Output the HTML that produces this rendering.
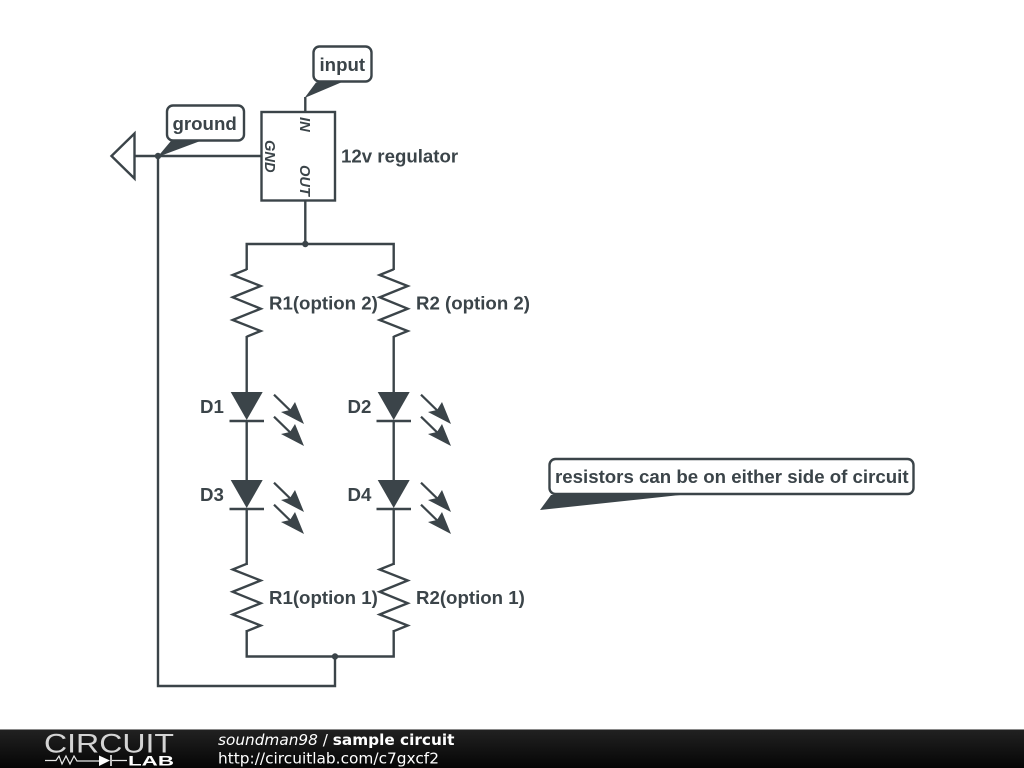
<!DOCTYPE html>
<html>
<head>
<meta charset="utf-8">
<style>
html,body{margin:0;padding:0;background:#fff;width:1024px;height:768px;overflow:hidden}
svg{display:block;position:absolute;left:0;top:0}
.l{font-family:"Liberation Sans",sans-serif;font-weight:bold;font-size:18.67px;fill:#3b4449}
.p{font-family:"Liberation Sans",sans-serif;font-weight:bold;font-style:italic;font-size:14.67px;fill:#3b4449}
.d{font-family:"DejaVu Sans",sans-serif;font-size:15.3px;fill:#fff}
</style>
</head>
<body>
<svg width="1024" height="768" viewBox="0 0 1024 768" xmlns="http://www.w3.org/2000/svg">
<defs>
<linearGradient id="bar" x1="0" y1="0" x2="0" y2="1"><stop offset="0" stop-color="#222"/><stop offset="1" stop-color="#050505"/></linearGradient>
<g id="arrow">
<path d="M274 394.700L300 420" fill="none" stroke="#3b4449" stroke-width="2.200"/>
<polygon points="281,412 290,410 295,402 304,424" fill="#3b4449"/>
</g>
<g id="led">
<polygon points="230.700,392 262.700,392 246.700,420" fill="#3b4449"/>
<path d="M229.500 421H264" fill="none" stroke="#3b4449" stroke-width="2.400"/>
<use href="#arrow"/>
<use href="#arrow" y="22"/>
</g>
<path id="res" d="M246.700 269.300L232.700 275L260.700 286L232.700 297.300L260.700 308.700L232.700 320L260.700 331L246.700 336.700" fill="none" stroke="#3b4449" stroke-width="2.400" stroke-linejoin="miter"/>
</defs>
<g fill="none" stroke="#3b4449" stroke-width="2.400">
<rect x="261.500" y="112" width="73.500" height="88.500"/>
<path d="M305.300 112V97"/>
<path d="M305.300 200V244"/>
<path d="M246.700 270V244H393.700V270"/>
<path d="M246.700 336V392M393.700 336V392"/>
<path d="M246.700 421V480M393.700 421V480"/>
<path d="M246.700 509V565M393.700 509V565"/>
<path d="M246.700 630V656.500H393.700V630"/>
<path d="M335 656.500V686H158V156"/>
<path d="M135 156H261.500"/>
<polygon points="111.500,156 134.500,133.500 134.500,178.500"/>
</g>
<use href="#res"/>
<use href="#res" x="147"/>
<use href="#res" y="294.500"/>
<use href="#res" x="147" y="294.500"/>
<use href="#led"/>
<use href="#led" x="147"/>
<use href="#led" y="88"/>
<use href="#led" x="147" y="88"/>
<circle cx="305.300" cy="244" r="3.200" fill="#3b4449"/>
<circle cx="158" cy="156" r="3.200" fill="#3b4449"/>
<circle cx="335" cy="656.500" r="3.200" fill="#3b4449"/>

<!-- callouts -->
<polygon points="304.500,98 316,82.500 341,82.500" fill="#3b4449"/>
<rect x="313.500" y="46.500" width="58" height="35" rx="6" fill="#fff" stroke="#3b4449" stroke-width="2.400"/>
<text class="l" x="319.500" y="71">input</text>

<polygon points="157.500,157 170.500,141.500 199,141.500" fill="#3b4449"/>
<rect x="167" y="105.500" width="77" height="35" rx="6" fill="#fff" stroke="#3b4449" stroke-width="2.400"/>
<text class="l" x="172.500" y="130">ground</text>

<polygon points="540,510 551,495 680,495" fill="#3b4449"/>
<rect x="549.500" y="459" width="364" height="35" rx="6" fill="#fff" stroke="#3b4449" stroke-width="2.400"/>
<text class="l" x="555" y="483">resistors can be on either side of circuit</text>

<text class="l" x="341" y="162.500">12v regulator</text>
<text class="l" x="269" y="309.500">R1(option 2)</text>
<text class="l" x="416" y="309.500">R2 (option 2)</text>
<text class="l" x="269" y="604">R1(option 1)</text>
<text class="l" x="416" y="604">R2(option 1)</text>
<text class="l" x="200" y="413">D1</text>
<text class="l" x="347.500" y="413">D2</text>
<text class="l" x="200" y="501">D3</text>
<text class="l" x="347.500" y="501">D4</text>

<text class="p" transform="translate(300,117) rotate(90)">IN</text>
<text class="p" transform="translate(300,165) rotate(90)">OUT</text>
<text class="p" transform="translate(265,140) rotate(90)">GND</text>

<!-- footer -->
<rect x="0" y="729" width="1024" height="39" fill="url(#bar)"/>
<rect x="0" y="729" width="1024" height="1" fill="#8a8a8a"/>
<text x="44" y="752.500" textLength="130" lengthAdjust="spacingAndGlyphs" font-family="Liberation Sans,sans-serif" font-size="27" fill="#d4d4d4">CIRCUIT</text>
<path d="M45 760.500H56L59 756L62 764L66 756L70 764L74 756L77 761H99M112 760.500H127" fill="none" stroke="#e8e8e8" stroke-width="1.200"/>
<polygon points="99,755.500 110,760.500 99,766" fill="#fff"/>
<path d="M111 755V766" stroke="#fff" stroke-width="1.500"/>
<text x="128" y="765.500" textLength="46" lengthAdjust="spacingAndGlyphs" font-family="Liberation Sans,sans-serif" font-weight="bold" font-size="14" fill="#fff">LAB</text>
<text class="d" x="218" y="745"><tspan font-style="italic">soundman98</tspan> / <tspan font-weight="bold">sample circuit</tspan></text>
<text class="d" x="218" y="763.500" textLength="221" lengthAdjust="spacingAndGlyphs">http://circuitlab.com/c7gxcf2</text>
</svg>
</body>
</html>
